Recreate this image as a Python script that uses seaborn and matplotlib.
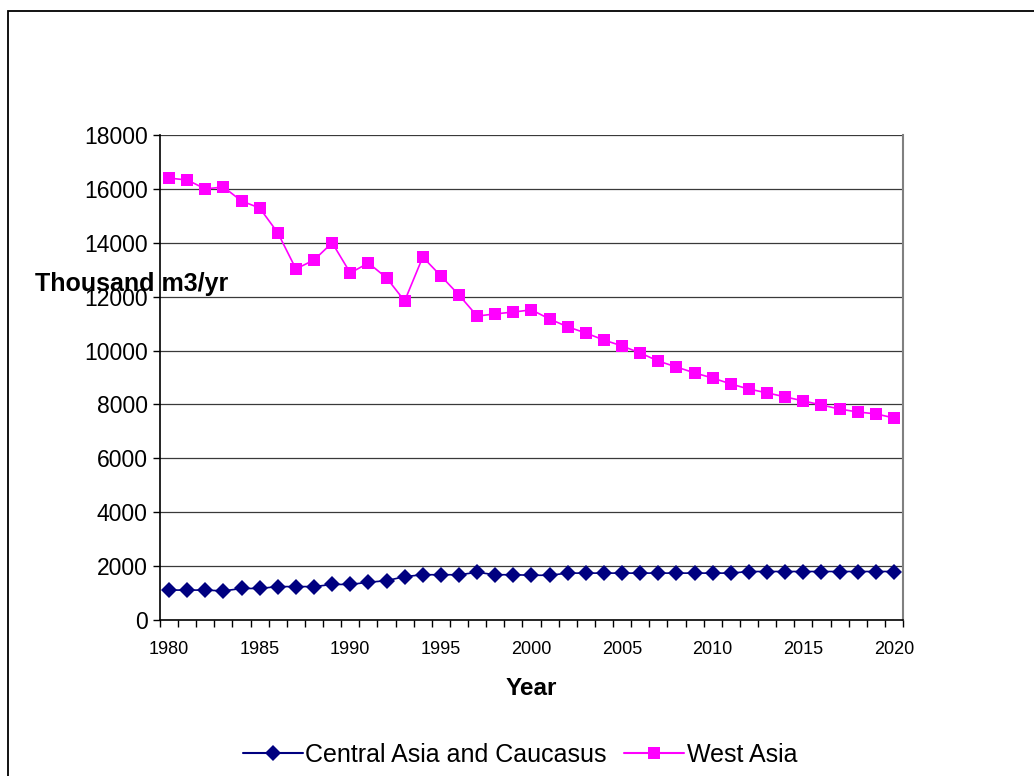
import numpy as np
import pandas as pd
import matplotlib
matplotlib.use("Agg")
import matplotlib.pyplot as plt
from matplotlib.patches import Rectangle
from matplotlib.ticker import FixedLocator
import seaborn as sns

years = list(range(1980, 2021))

central_asia = [1110, 1110, 1110, 1080, 1170, 1170, 1240, 1240, 1240, 1320,
                1320, 1400, 1460, 1610, 1680, 1680, 1680, 1770, 1680, 1680,
                1660, 1660, 1740, 1740, 1740, 1740, 1740, 1740, 1740, 1740,
                1740, 1740, 1800, 1800, 1800, 1800, 1800, 1800, 1800, 1800,
                1800]

west_asia = [16400, 16330, 16000, 16070, 15550, 15290, 14370, 13030, 13360, 14000,
             12880, 13250, 12700, 11840, 13470, 12770, 12060, 11280, 11360, 11430,
             11510, 11170, 10880, 10650, 10390, 10170, 9910, 9610, 9390, 9170,
             8980, 8760, 8570, 8430, 8280, 8130, 7980, 7830, 7720, 7650,
             7500]

series_names = ["Central Asia and Caucasus", "West Asia"]
x_tick_labels = ["1980", "1985", "1990", "1995", "2000", "2005", "2010", "2015", "2020"]
y_tick_values = list(range(0, 18001, 2000))

df = pd.DataFrame({
    "Year": years * 2,
    "Value": central_asia + west_asia,
    "Region": [series_names[0]] * len(years) + [series_names[1]] * len(years),
})

sns.set_theme(style="white")
plt.rcParams["font.family"] = ["Liberation Sans", "DejaVu Sans"]
plt.rcParams.update({
    "text.color": "black",
    "axes.labelcolor": "black",
    "xtick.color": "black",
    "ytick.color": "black",
})

fig = plt.figure(figsize=(10.34, 7.76), dpi=100)
ax = fig.add_axes([160 / 1034, 1 - 620 / 776, (903 - 160) / 1034, (620 - 135) / 776])

# outer chart frame, partly running off the canvas
fig.patches.append(Rectangle((8 / 1034, -0.1), 1.2, 1 - 11 / 776 + 0.1,
                             transform=fig.transFigure, fill=False,
                             edgecolor="black", linewidth=1.3, zorder=0))

sns.lineplot(data=df, x="Year", y="Value", hue="Region", style="Region",
             palette={series_names[0]: "#000080", series_names[1]: "#FF00FF"},
             markers={series_names[0]: "D", series_names[1]: "s"},
             dashes=False, markersize=8, markeredgewidth=0, linewidth=1.2,
             ax=ax, legend=False)

# horizontal gridlines
for v in y_tick_values[1:]:
    ax.axhline(v, color="#3a3a3a", linewidth=0.9, zorder=0)

ax.set_xlim(1979.5, 2020.5)
ax.set_ylim(0, 18000)
ax.set_yticks(y_tick_values)
ax.set_yticklabels([str(v) for v in y_tick_values], fontsize=16.5)
ax.set_xticks([int(t) for t in x_tick_labels])
ax.set_xticklabels(x_tick_labels, fontsize=13)
ax.xaxis.set_minor_locator(FixedLocator(np.arange(1979.5, 2021, 1.0)))
ax.tick_params(axis="x", which="major", length=0, pad=15)
ax.tick_params(axis="x", which="minor", bottom=True, length=5, width=1, color="black", direction="out")
ax.tick_params(axis="y", which="major", left=True, length=5, width=1, color="black", direction="out", pad=4)

for side in ["left", "bottom"]:
    ax.spines[side].set_color("black")
    ax.spines[side].set_linewidth(1.2)
ax.spines["right"].set_color("#808080")
ax.spines["right"].set_linewidth(1.5)
ax.spines["top"].set_visible(False)

ax.set_xlabel("Year", fontsize=17.5, fontweight="bold", labelpad=14)
ax.set_ylabel("")
fig.text(35 / 1034, 1 - 284 / 776, "Thousand m3/yr", fontsize=18, fontweight="bold",
         ha="left", va="center")

handles = [
    plt.Line2D([], [], color="#000080", marker="D", markersize=8.5, markeredgewidth=0, linewidth=1.5),
    plt.Line2D([], [], color="#FF00FF", marker="s", markersize=8, markeredgewidth=0, linewidth=1.5),
]
fig.legend(handles, series_names, loc="center", bbox_to_anchor=(520 / 1034, 1 - 755 / 776),
           ncol=2, frameon=False, fontsize=18, handlelength=2.4, handletextpad=0.1,
           columnspacing=0.7)

fig.savefig("out.png", dpi=100, facecolor="white")
